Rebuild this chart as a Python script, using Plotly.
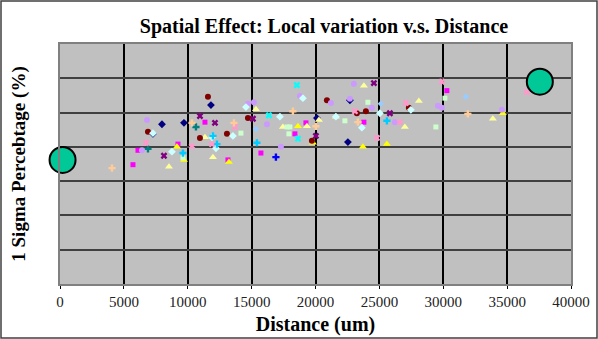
import plotly.graph_objects as go

# ---- data ----
navy_x = [7277, 7982, 9703, 11816, 20110, 22536, 22693]
navy_y = [2.19, 2.33, 2.35, 2.61, 2.42, 2.07, 2.68]

magenta_x = [5712, 6104, 9234, 11346, 13146, 15728, 18389, 19250, 23788, 30283]
magenta_y = [1.74, 1.95, 2.04, 2.36, 1.81, 1.91, 2.19, 2.35, 2.36, 2.82]

yellow_x = [9155, 9703, 13224, 18624, 19797, 23710, 25588, 34665]
yellow_y = [2.00, 1.81, 1.78, 2.30, 2.06, 2.00, 2.04, 2.49]

ltyellow_x = [8529, 11346, 11972, 15337, 17450, 19328, 20268, 21597, 23788, 26996, 28092, 33883]
ltyellow_y = [1.71, 2.14, 1.85, 2.55, 2.29, 2.30, 2.39, 2.44, 2.89, 2.29, 2.67, 2.41]

cyan_x = [16354, 18545, 18624]
cyan_y = [2.46, 2.90, 2.12]

purple_x = [8138, 10955, 12129, 15102, 20032, 24571, 25823]
purple_y = [1.87, 2.45, 2.35, 2.41, 2.16, 2.93, 2.49]

darkred_x = [6886, 10955, 11581, 13068, 14711, 19719, 20893, 23240, 23945, 27309]
darkred_y = [2.22, 2.13, 2.73, 2.19, 2.42, 2.09, 2.68, 2.49, 2.52, 2.57]

teal_x = [6886, 10642]
teal_y = [1.97, 2.29]

lavender_x = [6417, 6808, 14711, 15181, 16198, 17293, 18780, 21206, 22693, 23006, 24414, 26214, 29579, 29892, 34587]
lavender_y = [1.95, 2.39, 2.63, 2.65, 2.33, 2.00, 2.74, 2.64, 2.70, 2.92, 2.57, 2.36, 2.60, 2.57, 2.54]

turq_x = [7277, 8764, 11894, 12207, 13537, 14555, 17215, 19015, 21597, 23632, 25040, 27466]
turq_y = [2.20, 1.93, 2.14, 1.98, 2.16, 2.58, 2.44, 2.71, 2.44, 2.28, 2.49, 2.54]

ltgreen_x = [9625, 14163, 17763, 17919, 17998, 22301, 24101, 29422, 30126]
ltgreen_y = [1.84, 2.20, 2.29, 2.19, 2.29, 2.38, 2.65, 2.29, 2.71]

sky_x = [9625, 11972, 12285, 15415, 25588]
sky_y = [1.91, 2.16, 2.04, 2.06, 2.38]

paleblue_x = [15337, 25118, 31770]
paleblue_y = [2.26, 2.63, 2.73]

rose_x = [6730, 10329, 11894, 13694, 23084, 24806, 26605, 27075, 29892, 36543]
rose_y = [2.06, 2.01, 2.04, 2.29, 2.52, 2.13, 2.36, 2.64, 2.95, 2.80]

tan_x = [4069, 10329, 13616, 18232, 20032, 23319, 31927]
tan_y = [1.69, 2.35, 2.35, 2.52, 2.30, 2.36, 2.48]

blue_x = [16902]
blue_y = [1.85]

big_x = [200, 37560]
big_y = [1.81, 2.95]

x_ticks = [0, 5000, 10000, 15000, 20000, 25000, 30000, 35000, 40000]

series = [
    (navy_x, navy_y, "#000080", "diamond", 6),
    (magenta_x, magenta_y, "#FF00FF", "square", 5),
    (yellow_x, yellow_y, "#FFFF00", "triangle-up", 7),
    (ltyellow_x, ltyellow_y, "#FFFF99", "triangle-up", 7),
    (cyan_x, cyan_y, "#00FFFF", "x", 6),
    (purple_x, purple_y, "#800080", "x", 6),
    (darkred_x, darkred_y, "#800000", "circle", 6),
    (teal_x, teal_y, "#008080", "cross", 6),
    (lavender_x, lavender_y, "#CC99FF", "circle", 6),
    (turq_x, turq_y, "#CCFFFF", "diamond", 6),
    (ltgreen_x, ltgreen_y, "#CCFFCC", "square", 5),
    (sky_x, sky_y, "#00CCFF", "cross", 6),
    (paleblue_x, paleblue_y, "#99CCFF", "diamond", 5),
    (rose_x, rose_y, "#FF99CC", "x", 6),
    (tan_x, tan_y, "#FFCC99", "cross", 6),
    (blue_x, blue_y, "#0000FF", "cross", 6),
]

fig = go.Figure()
for xs, ys, col, sym, sz in series:
    fig.add_trace(go.Scatter(x=xs, y=ys, mode="markers",
                             marker=dict(color=col, symbol=sym, size=sz, line=dict(width=0)),
                             showlegend=False))

fig.add_trace(go.Scatter(x=big_x, y=big_y, mode="markers",
                         marker=dict(color="#00C896", size=26, line=dict(color="black", width=2)),
                         showlegend=False, cliponaxis=False))

serif = "Liberation Serif, Times New Roman, serif"
fig.update_layout(
    width=598, height=339,
    margin=dict(l=60, r=27, t=44, b=55, autoexpand=False),
    paper_bgcolor="white", plot_bgcolor="#C0C0C0",
    title=dict(text="<b>Spatial Effect: Local variation v.s. Distance</b>",
               x=324 / 598, xanchor="center", y=1 - 26 / 339, yanchor="middle",
               font=dict(family=serif, size=20, color="black")),
    font=dict(family=serif, color="black"),
    xaxis=dict(range=[0, 40000], tickvals=x_ticks, ticktext=[str(v) for v in x_ticks],
               automargin=False,
               showgrid=True, gridcolor="black", gridwidth=1.5, zeroline=False,
               showline=True, linecolor="#808080", linewidth=2, mirror=True,
               ticks="outside", ticklen=3, tickcolor="black",
               tickfont=dict(family=serif, size=15, color="#222222"),
               title=dict(text="<b>Distance (um)</b>", font=dict(family=serif, size=20), standoff=8)),
    yaxis=dict(range=[0, 3.5], dtick=0.5, showticklabels=False, automargin=False,
               showgrid=True, gridcolor="#404040", gridwidth=1.5, zeroline=False,
               showline=True, linecolor="#808080", linewidth=2, mirror=True,
               title=dict(text="<b>1 Sigma Percebtage (%)</b>", font=dict(family=serif, size=19), standoff=27)),
    shapes=[dict(type="rect", xref="paper", yref="paper",
                 x0=(1 - 60) / 511, x1=(597 - 60) / 511,
                 y0=(284 - 338) / 240, y1=(284 - 1) / 240,
                 line=dict(color="#404040", width=1.5), fillcolor="rgba(0,0,0,0)", layer="below")],
)

fig.write_html("out.html", config={"displayModeBar": False},
               post_script="document.body.style.margin='0';document.body.style.overflow='hidden';")
